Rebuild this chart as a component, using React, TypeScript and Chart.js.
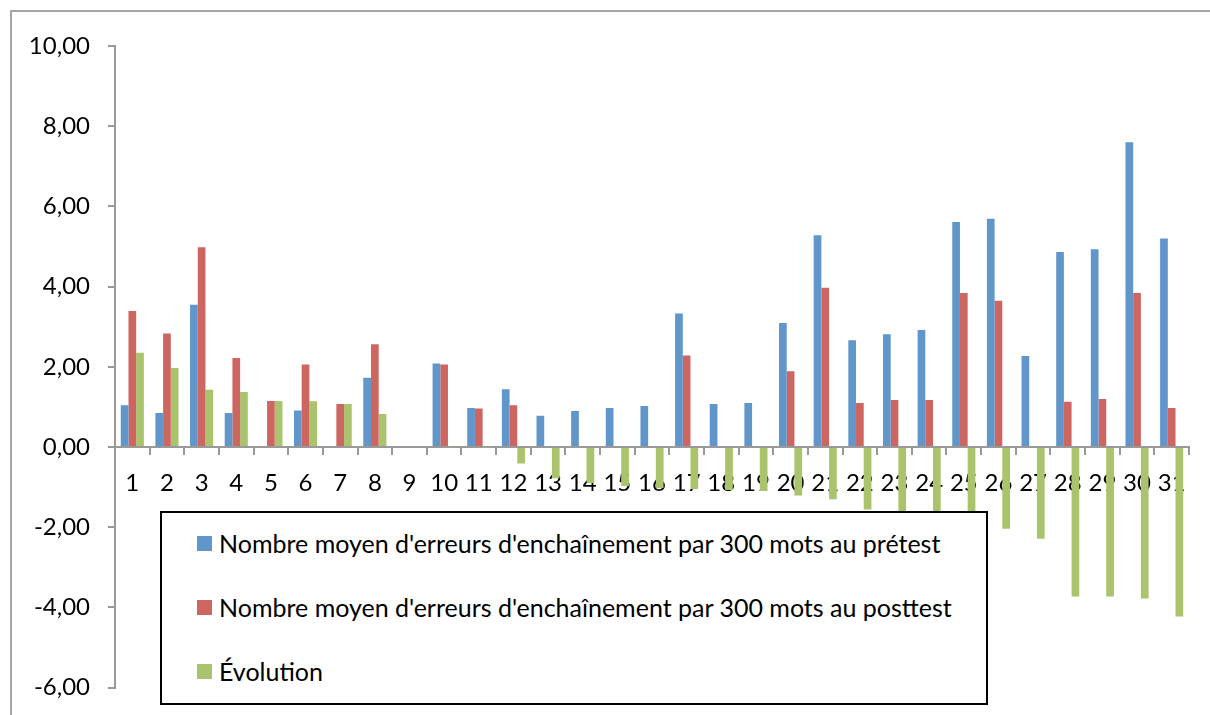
import React, { useEffect, useRef } from "react";
import { Chart, registerables } from "chart.js";
Chart.register(...registerables);

const categories = ["1","2","3","4","5","6","7","8","9","10","11","12","13","14","15","16","17","18","19","20","21","22","23","24","25","26","27","28","29","30","31"];
const pretest = [1.04,0.85,3.55,0.85,0,0.91,0,1.73,0,2.08,0.97,1.44,0.78,0.90,0.97,1.02,3.33,1.07,1.10,3.09,5.28,2.66,2.81,2.92,5.61,5.69,2.27,4.86,4.93,7.60,5.20];
const posttest = [3.39,2.83,4.98,2.22,1.15,2.06,1.07,2.56,0,2.06,0.96,1.04,0,0,0,0,2.28,0,0,1.89,3.97,1.10,1.17,1.17,3.84,3.65,0,1.13,1.20,3.84,0.97];
const evolution = [2.35,1.97,1.43,1.37,1.15,1.14,1.07,0.82,0,-0.02,-0.01,-0.41,-0.78,-0.90,-0.97,-1.02,-1.05,-1.07,-1.10,-1.21,-1.30,-1.56,-1.64,-1.75,-1.77,-2.04,-2.29,-3.73,-3.73,-3.78,-4.23];
const seriesNames = [
  "Nombre moyen d'erreurs d'enchaînement par 300 mots au prétest",
  "Nombre moyen d'erreurs d'enchaînement par 300 mots au posttest",
  "Évolution",
];
const seriesColors = ["#6096C9", "#CD6660", "#AAC46D"];
const yMin = -6;
const yMax = 10;
const yStep = 2;

const FONT = "Lato, 'Open Sans', sans-serif";

export default function App() {
  const ref = useRef<HTMLCanvasElement | null>(null);
  useEffect(() => {
    if (!ref.current) return;
    const chart = new Chart(ref.current, {
      type: "bar",
      data: {
        labels: categories,
        datasets: [pretest, posttest, evolution].map((d, i) => ({
          label: seriesNames[i],
          data: d,
          backgroundColor: seriesColors[i],
          borderWidth: 0,
          barPercentage: 1,
          categoryPercentage: 0.667,
        })),
      },
      options: {
        responsive: false,
        animation: false,
        devicePixelRatio: 1,
        layout: { padding: { left: 0, top: 46, right: 21, bottom: 23 } },
        plugins: { legend: { display: false }, tooltip: { enabled: false } },
        scales: {
          x: {
            position: { y: 0 } as any,
            grid: {
              display: true,
              drawOnChartArea: false,
              drawTicks: true,
              tickLength: 7,
              color: "#999999",
              lineWidth: 2,
            },
            border: { display: true, color: "#999999", width: 2 },
            ticks: {
              color: "#000000",
              font: { family: FONT, size: 24 },
              padding: 15,
              maxRotation: 0,
              autoSkip: false,
            },
          },
          y: {
            min: yMin,
            max: yMax,
            afterFit: (axis: any) => {
              axis.width = 115;
            },
            grid: {
              display: true,
              drawOnChartArea: false,
              drawTicks: true,
              tickLength: 7,
              color: "#999999",
              lineWidth: 2,
            },
            border: { display: true, color: "#999999", width: 2 },
            ticks: {
              stepSize: yStep,
              color: "#000000",
              font: { family: FONT, size: 24 },
              padding: 18,
              callback: (v: any) => Number(v).toFixed(2).replace(".", ","),
            },
          },
        },
      },
    });
    return () => chart.destroy();
  }, []);

  return (
    <div style={{ position: "fixed", left: 0, top: 0, width: 1210, height: 715, background: "#fff", overflow: "hidden" }}>
      <div style={{ position: "absolute", left: 10, top: 10, right: -10, bottom: -10, borderTop: "2px solid #a6a6a6", borderLeft: "2px solid #a6a6a6" }} />
      <canvas ref={ref} width={1210} height={720} style={{ position: "absolute", left: 0, top: 0, width: 1210, height: 720, display: "block" }} />
      <div
        style={{
          position: "absolute",
          left: 160,
          top: 511,
          width: 828,
          height: 194,
          boxSizing: "border-box",
          border: "2px solid #000",
          background: "#fff",
          fontFamily: FONT,
          fontSize: 25,
          color: "#000",
        }}
      >
        {seriesNames.map((n, i) => (
          <div key={n} style={{ position: "absolute", left: 35, top: 17 + i * 64, height: 26, display: "flex", alignItems: "center", whiteSpace: "nowrap" }}>
            <span style={{ display: "inline-block", width: 15, height: 15, background: seriesColors[i], marginRight: 7 }} />
            <span>{n}</span>
          </div>
        ))}
      </div>
    </div>
  );
}
